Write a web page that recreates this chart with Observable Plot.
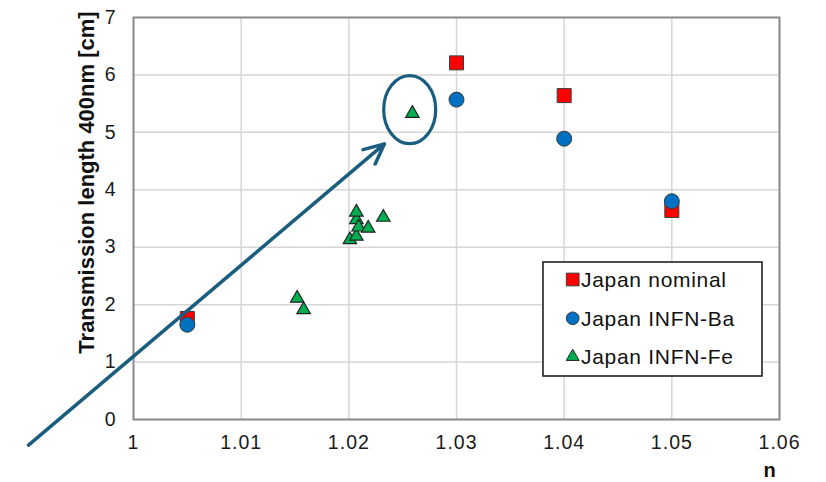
<!DOCTYPE html>
<html>
<head>
<meta charset="utf-8">
<script src="https://cdn.jsdelivr.net/npm/d3@7"></script>
<script src="https://cdn.jsdelivr.net/npm/@observablehq/plot@0.6"></script>
<style>
  html, body { margin: 0; padding: 0; background: #fff; }
</style>
</head>
<body>
<div id="chart"></div>
<script>
// ---- Data ----
const nominalN = [1.005, 1.03, 1.04, 1.05];
const nominalT = [1.76, 6.21, 5.64, 3.64];

const baN = [1.005, 1.03, 1.04, 1.05];
const baT = [1.65, 5.57, 4.89, 3.80];

const feN = [1.0152, 1.0158, 1.0201, 1.0207, 1.0207, 1.0207, 1.0209, 1.0218, 1.0232, 1.0259];
const feT = [2.11, 1.91, 3.13, 3.19, 3.48, 3.61, 3.35, 3.33, 3.52, 5.33];

const xTicks = [1, 1.01, 1.02, 1.03, 1.04, 1.05, 1.06];
const yTicks = [0, 1, 2, 3, 4, 5, 6, 7];

const seriesNames = ["Japan nominal", "Japan INFN-Ba", "Japan INFN-Fe"];
const seriesColors = ["#ff0000", "#0070c0", "#00b050"];

const yLabel = "Transmission length 400nm [cm]";
const xLabel = "n";

// annotation (arrow + highlight ellipse), in data units
const arrowFrom = {n: 0.99025, t: -0.447};
const arrowTo = {n: 1.02331, t: 4.80};
const ellipseCenter = {n: 1.0257, t: 5.387};
const annotColor = "#1a5d7e";

// ---- Build tables ----
const nominal = nominalN.map((n, i) => ({n, t: nominalT[i]}));
const ba = baN.map((n, i) => ({n, t: baT[i]}));
const fe = feN.map((n, i) => ({n, t: feT[i]}));

const font = "'Liberation Sans', Arial, Helvetica, sans-serif";
const xFmt = d => String(+d.toFixed(2));
const yFmt = d => String(d);

const plot = Plot.plot({
  width: 826,
  height: 482,
  marginLeft: 133,
  marginRight: 47,
  marginTop: 17,
  marginBottom: 63,
  x: {domain: [1, 1.06]},
  y: {domain: [0, 7]},
  style: {fontFamily: font, fontSize: "20px", color: "#222", background: "#fff", overflow: "visible"},
  marks: [
    Plot.gridX(xTicks, {stroke: "#d6d6d6", strokeWidth: 1.5, strokeOpacity: 1}),
    Plot.gridY(yTicks, {stroke: "#d6d6d6", strokeWidth: 1.5, strokeOpacity: 1}),
    Plot.frame({stroke: "#8c8c8c", strokeWidth: 2}),
    Plot.axisX(xTicks, {tickSize: 0, tickPadding: 16, fontSize: 19.5, label: null, tickFormat: xFmt}),
    Plot.axisY(yTicks, {tickSize: 0, tickPadding: 17, fontSize: 19.5, label: null, tickFormat: yFmt}),
    Plot.dot(nominal, {x: "n", y: "t", symbol: "square", r: 7.9, fill: seriesColors[0], stroke: "#3a3a3a", strokeWidth: 1}),
    Plot.dot(ba, {x: "n", y: "t", symbol: "circle", r: 7.5, fill: seriesColors[1], stroke: "#3a3a3a", strokeWidth: 1}),
    Plot.dot(fe, {x: "n", y: "t", symbol: "triangle", r: 5, fill: seriesColors[2], stroke: "#222", strokeWidth: 1.2}),
    Plot.arrow([{x1: arrowFrom.n, y1: arrowFrom.t, x2: arrowTo.n, y2: arrowTo.t}],
      {x1: "x1", y1: "y1", x2: "x2", y2: "y2", stroke: annotColor, strokeWidth: 3.5, headLength: 9.5, headAngle: 50}),
    Plot.text([yLabel], {frameAnchor: "left", textAnchor: "middle", lineAnchor: "middle", rotate: -90, dx: -47, dy: -36, fontWeight: "bold", fontSize: 22, fill: "#111"}),
    Plot.text([xLabel], {frameAnchor: "bottom-right", textAnchor: "middle", lineAnchor: "middle", dx: -10, dy: 51, fontWeight: "bold", fontSize: 20, fill: "#111"})
  ]
});

document.getElementById("chart").appendChild(plot);

const svg = d3.select(plot);
// tick labels: slightly wider spacing, as in the reference
const tickStrings = new Set([...xTicks.map(xFmt), ...yTicks.map(yFmt)]);
svg.selectAll("text").each(function () {
  if (tickStrings.has(this.textContent.trim())) {
    this.setAttribute("letter-spacing", "1");
    this.style.letterSpacing = "1px";
    this.setAttribute("fill", "#1a1a1a");
  }
});

// ---- Overlay: highlight ellipse + legend ----
const sx = plot.scale("x"), sy = plot.scale("y");

svg.append("ellipse")
  .attr("cx", sx.apply(ellipseCenter.n))
  .attr("cy", sy.apply(ellipseCenter.t))
  .attr("rx", 26).attr("ry", 34)
  .attr("fill", "none")
  .attr("stroke", annotColor)
  .attr("stroke-width", 3.2);

const lg = svg.append("g").attr("font-family", font).attr("text-anchor", "start");
lg.append("rect")
  .attr("x", 543).attr("y", 262).attr("width", 219).attr("height", 114)
  .attr("fill", "#fff").attr("stroke", "#222").attr("stroke-width", 1.6);

const legendSymbols = [
  d3.symbol(d3.symbolSquare, 161)(),
  d3.symbol(d3.symbolCircle, 127)(),
  d3.symbol(d3.symbolTriangle, 72)()
];
const rowY = [279.5, 318.3, 356.7];
seriesNames.forEach((name, i) => {
  lg.append("path")
    .attr("d", legendSymbols[i])
    .attr("transform", `translate(572.7,${rowY[i]})`)
    .attr("fill", seriesColors[i])
    .attr("stroke", i === 2 ? "#222" : "#3a3a3a")
    .attr("stroke-width", 1);
  lg.append("text")
    .attr("x", 581).attr("y", rowY[i])
    .attr("dy", "0.36em")
    .attr("text-anchor", "start")
    .style("font-size", "21px")
    .style("letter-spacing", "0.7px")
    .attr("fill", "#111")
    .text(name);
});
</script>
</body>
</html>
